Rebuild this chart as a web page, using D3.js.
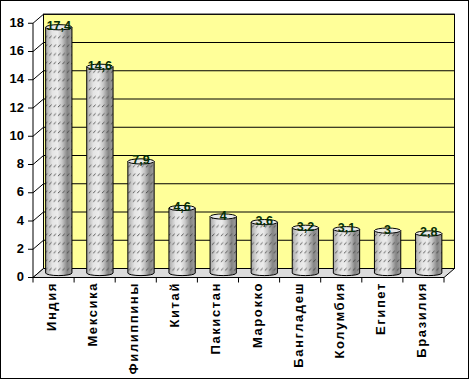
<!DOCTYPE html>
<html><head><meta charset="utf-8">
<script src="https://cdn.jsdelivr.net/npm/d3@7"></script>
<style>body{margin:0;background:#fff}svg{display:block}</style>
</head><body>
<script>
const categories = ["Индия","Мексика","Филиппины","Китай","Пакистан","Марокко","Бангладеш","Колумбия","Египет","Бразилия"];
const values = [17.4,14.6,7.9,4.6,4,3.6,3.2,3.1,3,2.8];
const yTicks = [0,2,4,6,8,10,12,14,16,18];

const W=470,H=380;
const svg=d3.select("body").append("svg").attr("width",W).attr("height",H);
const font="Arial, 'Liberation Sans', sans-serif";
const DX=10.5, DY=-9;
const x=d3.scaleBand().domain(categories).range([33,444]).paddingInner(0).paddingOuter(0);
const y=d3.scaleLinear().domain([0,18]).range([277.5,23.25]);

svg.append("rect").attr("x",0.5).attr("y",0.5).attr("width",468).attr("height",378)
  .attr("fill","#fff").attr("stroke","#000");

const defs=svg.append("defs");
const g=defs.append("linearGradient").attr("id","cyl").attr("x1","0").attr("x2","1").attr("y1","0").attr("y2","0");
[[0,"#a8a8a8"],[0.25,"#e4e4e4"],[0.45,"#ececec"],[0.62,"#c8c8c8"],[0.82,"#858585"],[1,"#a0a0a0"]]
  .forEach(([o,c])=>g.append("stop").attr("offset",o).attr("stop-color",c));
const p=defs.append("pattern").attr("id","hatch").attr("patternUnits","userSpaceOnUse")
  .attr("width",4.4).attr("height",8.6);
p.append("line").attr("x1",0.8).attr("y1",4.0).attr("x2",3.2).attr("y2",1.6)
  .attr("stroke","#333").attr("stroke-width",0.8);

const x0=x.range()[0], x1=x.range()[1];
svg.append("rect").attr("x",x0+DX).attr("y",y(18)+DY).attr("width",x1-x0).attr("height",y(0)-y(18))
  .attr("fill","#FFFF99").attr("stroke","#000");
yTicks.forEach(t=>{
  svg.append("line").attr("x1",x0+DX).attr("x2",x1+DX).attr("y1",y(t)+DY).attr("y2",y(t)+DY).attr("stroke","#000");
  svg.append("line").attr("x1",x0).attr("x2",x0+DX).attr("y1",y(t)).attr("y2",y(t)+DY).attr("stroke","#000");
});
svg.append("polygon").attr("points",[[x0,y(0)],[x1,y(0)],[x1+DX,y(0)+DY],[x0+DX,y(0)+DY]].map(d=>d.join(",")).join(" "))
  .attr("fill","#dcdcdc").attr("stroke","#000");

const bw=x.bandwidth()*0.64, rx=bw/2, ry=2.6;
categories.forEach((c,i)=>{
  const cx=x(c)+x.bandwidth()/2+DX/2;
  const yb=y(0)+DY/2, yt=y(values[i])+DY/2;
  const body=`M${cx-rx},${yt} V${yb} A${rx},${ry} 0 0 0 ${cx+rx},${yb} V${yt} Z`;
  svg.append("path").attr("d",body).attr("fill","url(#cyl)");
  svg.append("path").attr("d",body).attr("fill","url(#hatch)").attr("stroke","#000").attr("stroke-width",1);
  svg.append("ellipse").attr("cx",cx).attr("cy",yt).attr("rx",rx).attr("ry",ry)
    .attr("fill","#e8e8e8").attr("stroke","#000");
  svg.append("text").attr("x",cx).attr("y",yt+3).attr("text-anchor","middle")
    .attr("font-family",font).attr("font-weight","bold").attr("font-size",12.5).attr("fill","#063006")
    .text(String(values[i]).replace(".",","));
});

svg.append("line").attr("x1",x0).attr("x2",x0).attr("y1",y(18)).attr("y2",y(0)).attr("stroke","#000");
svg.append("line").attr("x1",x0).attr("x2",x1).attr("y1",y(0)).attr("y2",y(0)).attr("stroke","#000");
yTicks.forEach(t=>{
  svg.append("line").attr("x1",28).attr("x2",x0).attr("y1",y(t)).attr("y2",y(t)).attr("stroke","#000");
  svg.append("text").attr("x",24).attr("y",y(t)-1).attr("text-anchor","end").attr("dominant-baseline","central")
    .attr("font-family",font).attr("font-weight","bold").attr("font-size",13).text(t);
});
for(let i=0;i<=categories.length;i++){
  const xx=x0+i*x.bandwidth();
  svg.append("line").attr("x1",xx).attr("x2",xx).attr("y1",y(0)).attr("y2",y(0)+5).attr("stroke","#000");
}
categories.forEach(c=>{
  const cx=x(c)+x.bandwidth()/2-2;
  svg.append("text").attr("transform",`translate(${cx},282) rotate(-90)`)
    .attr("text-anchor","end").attr("dominant-baseline","central")
    .attr("font-family",font).attr("font-weight","bold").attr("font-size",13).attr("letter-spacing","1.6px")
    .text(c);
});
</script>
</body></html>
